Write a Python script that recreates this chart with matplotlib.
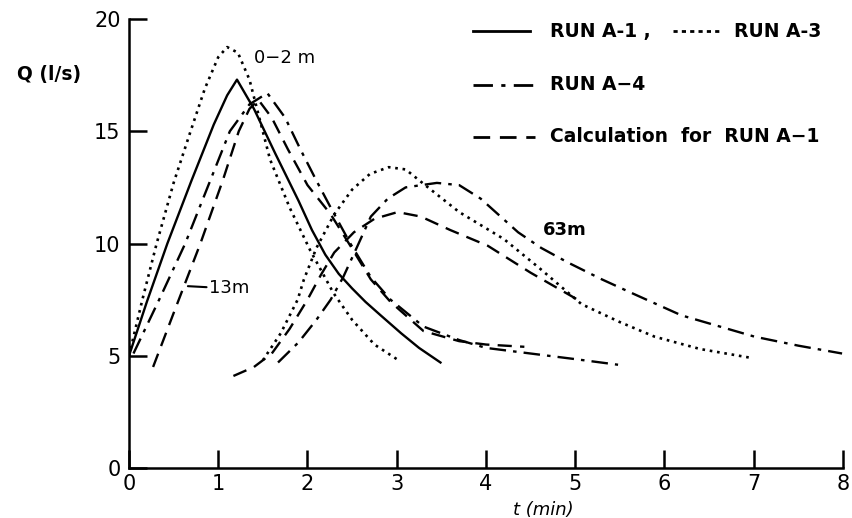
import matplotlib
matplotlib.use("Agg")
import matplotlib.pyplot as plt
from matplotlib.lines import Line2D

# readings at the upstream station (0-2 m / 13 m)
t_a3_up = [0, 0.15, 0.31, 0.5, 0.69, 0.85, 1.0, 1.1, 1.22, 1.35, 1.58, 1.8, 2.03, 2.29, 2.5, 2.75, 3.02]
q_a3_up = [5, 7.5, 10, 12.7, 15, 16.9, 18.3, 18.75, 18.5, 17.3, 13.75, 11.6, 9.7, 7.8, 6.6, 5.5, 4.8]

t_a1_up = [0, 0.2, 0.43, 0.7, 0.95, 1.1, 1.21, 1.4, 1.64, 1.9, 2.05, 2.2, 2.35, 2.5, 2.65, 2.82, 3.05, 3.25, 3.49]
q_a1_up = [5, 7.4, 10, 12.8, 15.3, 16.6, 17.3, 16.0, 14.0, 11.9, 10.6, 9.5, 8.65, 8.0, 7.4, 6.8, 6.0, 5.35, 4.7]

t_a4_up = [0.05, 0.35, 0.63, 0.9, 1.13, 1.35, 1.55, 1.75, 1.92, 2.1, 2.26, 2.48, 2.71, 2.93, 3.3, 3.7, 4.0, 4.5, 5.0, 5.48]
q_a4_up = [5.1, 7.6, 10, 12.7, 15, 16.2, 16.7, 15.6, 14.2, 12.8, 11.6, 10.0, 8.5, 7.5, 6.3, 5.7, 5.35, 5.1, 4.85, 4.6]

t_calc_up = [0.27, 0.5, 0.8, 1.05, 1.23, 1.35, 1.45, 1.6, 1.78, 2.0, 2.26, 2.48, 2.71, 2.93, 3.3, 3.7, 4.0, 4.43]
q_calc_up = [4.5, 6.9, 10, 12.8, 15, 16.0, 16.4, 15.6, 14.2, 12.6, 11.3, 9.9, 8.4, 7.4, 6.1, 5.65, 5.5, 5.4]

# readings at 63 m
t_a3_63 = [1.5, 1.7, 1.89, 1.96, 2.1, 2.3, 2.5, 2.7, 2.91, 3.1, 3.35, 3.7, 4.2, 4.6, 5.07, 5.5, 5.89, 6.4, 6.98]
q_a3_63 = [4.8, 6.0, 7.5, 8.4, 9.8, 11.3, 12.4, 13.1, 13.4, 13.3, 12.5, 11.4, 10.2, 8.9, 7.3, 6.5, 5.85, 5.3, 4.9]

t_calc_63 = [1.17, 1.4, 1.6, 1.8, 2.0, 2.15, 2.3, 2.52, 2.75, 3.01, 3.27, 3.6, 4.02, 4.5, 5.07]
q_calc_63 = [4.1, 4.5, 5.1, 6.2, 7.5, 8.6, 9.6, 10.5, 11.1, 11.4, 11.2, 10.6, 9.9, 8.7, 7.4]

t_a4_63 = [1.67, 1.9, 2.1, 2.26, 2.4, 2.55, 2.71, 2.9, 3.1, 3.45, 3.7, 3.94, 4.36, 4.62, 4.92, 5.3, 5.63, 6.19, 7.01, 7.5, 7.99]
q_a4_63 = [4.7, 5.6, 6.6, 7.5, 8.5, 9.8, 11.2, 12.0, 12.5, 12.7, 12.6, 12.0, 10.5, 9.8, 9.15, 8.4, 7.8, 6.8, 5.85, 5.45, 5.1]

x_ticks = [0, 1, 2, 3, 4, 5, 6, 7, 8]
y_ticks = [0, 5, 10, 15, 20]

solid = "-"
dotted = (0, (1.0, 1.8))
dashdot = (0, (7, 3, 1.5, 3))
dashed = (0, (6, 3.5))
lw = 1.7

fig = plt.figure(figsize=(8.52, 5.18), dpi=100)
ax = fig.add_axes([0.1514, 0.0965, 0.838, 0.8668])

ax.plot(t_a3_up, q_a3_up, color="black", lw=1.9, ls=dotted)
ax.plot(t_a1_up, q_a1_up, color="black", lw=lw, ls=solid)
ax.plot(t_a4_up, q_a4_up, color="black", lw=lw, ls=dashdot)
ax.plot(t_calc_up, q_calc_up, color="black", lw=lw, ls=dashed)
ax.plot(t_a3_63, q_a3_63, color="black", lw=1.9, ls=dotted)
ax.plot(t_calc_63, q_calc_63, color="black", lw=lw, ls=dashed)
ax.plot(t_a4_63, q_a4_63, color="black", lw=lw, ls=dashdot, clip_on=False)

ax.set_xlim(0, 8)
ax.set_ylim(0, 20)
ax.set_xticks(x_ticks)
ax.set_yticks(y_ticks)
ax.spines["top"].set_visible(False)
ax.spines["right"].set_visible(False)
ax.spines["left"].set_linewidth(1.8)
ax.spines["bottom"].set_linewidth(1.8)
ax.tick_params(direction="in", length=13, width=1.8, labelsize=15, pad=6)
ax.tick_params(axis="x", pad=4)

# label texts
ax.text(1.4, 18.25, "0\u22122 m", fontsize=13, va="center")
ax.annotate("13m", xy=(0.66, 8.1), xytext=(0.9, 8.0), fontsize=13, va="center",
            arrowprops=dict(arrowstyle="-", lw=1.5, color="black", shrinkA=0, shrinkB=0))
ax.text(4.64, 10.6, "63m", fontsize=13, fontweight="bold", va="center")

fig.text(0.02, 0.845, "Q (l/s)", fontsize=13.5, fontweight="bold")
fig.text(0.602, 0.005, "t (min)", fontsize=13, style="italic")

# legend drawn by hand
def key(x0, x1, y, ls):
    fig.add_artist(Line2D([x0, x1], [y, y], transform=fig.transFigure,
                          color="black", lw=2, ls=ls))

key(0.555, 0.622, 0.940, solid)
fig.text(0.645, 0.940, "RUN A-1 ,", fontsize=13.5, fontweight="bold", va="center")
key(0.790, 0.849, 0.940, (0, (1.5, 1.5)))
fig.text(0.862, 0.940, "RUN A-3", fontsize=13.5, fontweight="bold", va="center")
key(0.555, 0.634, 0.836, dashdot)
fig.text(0.645, 0.836, "RUN A\u22124", fontsize=13.5, fontweight="bold", va="center")
key(0.555, 0.628, 0.736, dashed)
fig.text(0.645, 0.736, "Calculation  for  RUN A\u22121", fontsize=13.5, fontweight="bold", va="center")

fig.savefig("out.png", dpi=100)
